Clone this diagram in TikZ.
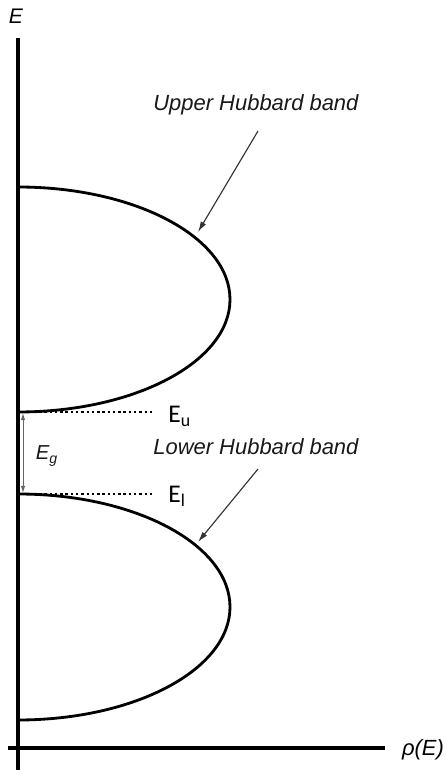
\documentclass[tikz,border=0pt]{standalone}
\usepackage{fontspec}
\setmainfont{Liberation Sans}
\newfontfamily\calib{Carlito}
\usetikzlibrary{arrows.meta}
\begin{document}
\begin{tikzpicture}[x=0.02cm,y=0.02cm,
  axisline/.style={line width=2pt},
  bandline/.style={line width=1.6pt},
  levelline/.style={line width=1.3pt,dash pattern=on 1.4pt off 1.6pt},
  pointer/.style={line width=0.65pt,black!80,-{Latex[length=6pt,width=3.4pt]}},
  lbl/.style={font=\itshape\fontsize{12.5}{14}\selectfont,text=black!90,inner sep=0pt},
  lev/.style={font=\calib\fontsize{14.5}{16}\selectfont,inner sep=0pt}]
\useasboundingbox (0,0) rectangle (447,774);
% axes
\coordinate (ytop) at (18,736);
\coordinate (ybot) at (18,4);
\coordinate (xl) at (8,26);
\coordinate (xr) at (385,26);
\draw[axisline] (ybot) -- (ytop);
\draw[axisline] (xl) -- (xr);
\node[font=\itshape\fontsize{12}{14}\selectfont,inner sep=0pt] (Elab) at (16,758) {E};
\node[font=\itshape\fontsize{12.5}{14}\selectfont,inner sep=0pt] (rholab) at (423,24) {ρ(E)};
% bands
\coordinate (ubtop) at (18,587);
\coordinate (lbtop) at (18,280);
\draw[bandline] (ubtop) arc[start angle=90,end angle=-90,x radius=212,y radius=112.5] coordinate (ubbot);
\draw[bandline] (lbtop) arc[start angle=90,end angle=-90,x radius=212,y radius=113] coordinate (lbbot);
% levels
\coordinate (Eu0) at (18,362);
\coordinate (Eu1) at (155,362);
\coordinate (El0) at (18,280);
\coordinate (El1) at (155,280);
\draw[levelline] (Eu0) -- (Eu1);
\draw[levelline] (El0) -- (El1);
\node[lev,anchor=west] (Eu) at (168,358) {E\textsubscript{u}};
\node[lev,anchor=west] (El) at (168,278) {E\textsubscript{l}};
% gap
\coordinate (g0) at (23,361);
\coordinate (g1) at (23,281);
\draw[line width=0.55pt,black!60,{Latex[length=4pt,width=2.5pt]}-{Latex[length=4pt,width=2.5pt]}] (g0) -- (g1);
\node[font=\itshape\fontsize{11.5}{13}\selectfont,inner sep=0pt,text=black!90] (Eg) at (47,318) {E\textsubscript{g}};
% labels and pointers
\node[lbl,anchor=west] (ulab) at (153,669) {Upper Hubbard band};
\node[lbl,anchor=west] (llab) at (153,327) {Lower Hubbard band};
\coordinate (ua) at (258,643);
\coordinate (ub) at (198,542);
\coordinate (la) at (258,305);
\coordinate (lb) at (198,232);
\draw[pointer] (ua) -- (ub);
\draw[pointer] (la) -- (lb);
\end{tikzpicture}
\end{document}
